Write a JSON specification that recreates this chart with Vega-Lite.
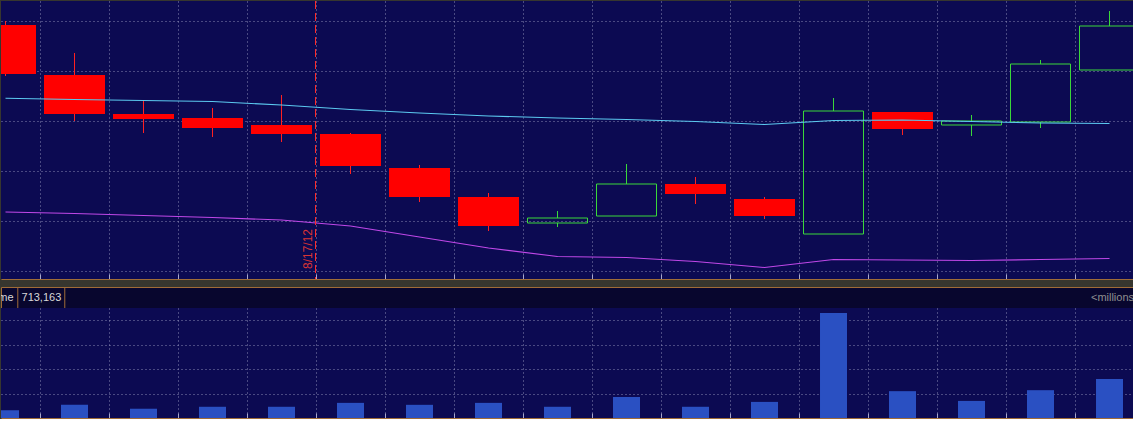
{
  "$schema": "https://vega.github.io/schema/vega-lite/v6.json",
  "background": "#37362f",
  "padding": 0,
  "bounds": "flush",
  "spacing": 8,
  "config": {
    "font": "Liberation Sans",
    "view": {"stroke": null},
    "axis": {
      "labels": false,
      "ticks": false,
      "domain": false,
      "grid": false,
      "labelPadding": 0,
      "gridColor": "#a8a8cc",
      "gridOpacity": 0.8,
      "gridDash": [1, 3],
      "gridWidth": 1,
      "tickColor": "#a8a8cc",
      "domainColor": "#a06c38",
      "domainWidth": 1
    }
  },
  "datasets": {
    "ohlc": [
      {"i": 0, "date": "2012-08-10", "open": 29.84, "high": 30.0, "low": 27.8, "close": 27.88, "ma1": 26.91, "ma2": 22.36, "volume": 0.16},
      {"i": 1, "date": "2012-08-13", "open": 27.84, "high": 28.72, "low": 26.0, "close": 26.28, "ma1": 26.86, "ma2": 22.3, "volume": 0.27},
      {"i": 2, "date": "2012-08-14", "open": 26.28, "high": 26.84, "low": 25.52, "close": 26.08, "ma1": 26.82, "ma2": 22.22, "volume": 0.19},
      {"i": 3, "date": "2012-08-15", "open": 26.12, "high": 26.52, "low": 25.36, "close": 25.72, "ma1": 26.78, "ma2": 22.14, "volume": 0.23},
      {"i": 4, "date": "2012-08-16", "open": 25.84, "high": 27.04, "low": 25.16, "close": 25.48, "ma1": 26.64, "ma2": 22.04, "volume": 0.23},
      {"i": 5, "date": "2012-08-17", "open": 25.48, "high": 25.52, "low": 23.88, "close": 24.2, "ma1": 26.46, "ma2": 21.8, "volume": 0.31},
      {"i": 6, "date": "2012-08-20", "open": 24.12, "high": 24.24, "low": 22.76, "close": 22.96, "ma1": 26.32, "ma2": 21.36, "volume": 0.27},
      {"i": 7, "date": "2012-08-21", "open": 22.96, "high": 23.12, "low": 21.6, "close": 21.8, "ma1": 26.2, "ma2": 20.92, "volume": 0.31},
      {"i": 8, "date": "2012-08-22", "open": 21.92, "high": 22.4, "low": 21.76, "close": 22.12, "ma1": 26.12, "ma2": 20.58, "volume": 0.23},
      {"i": 9, "date": "2012-08-23", "open": 22.2, "high": 24.28, "low": 22.2, "close": 23.48, "ma1": 26.06, "ma2": 20.54, "volume": 0.43},
      {"i": 10, "date": "2012-08-24", "open": 23.48, "high": 23.76, "low": 22.68, "close": 23.08, "ma1": 25.98, "ma2": 20.38, "volume": 0.23},
      {"i": 11, "date": "2012-08-27", "open": 22.88, "high": 22.96, "low": 22.08, "close": 22.2, "ma1": 25.86, "ma2": 20.14, "volume": 0.33},
      {"i": 12, "date": "2012-08-28", "open": 21.48, "high": 26.92, "low": 21.48, "close": 26.4, "ma1": 26.02, "ma2": 20.46, "volume": 2.15},
      {"i": 13, "date": "2012-08-29", "open": 26.36, "high": 26.36, "low": 25.44, "close": 25.68, "ma1": 26.04, "ma2": 20.44, "volume": 0.55},
      {"i": 14, "date": "2012-08-30", "open": 25.84, "high": 26.24, "low": 25.4, "close": 26.0, "ma1": 25.98, "ma2": 20.42, "volume": 0.35},
      {"i": 15, "date": "2012-08-31", "open": 25.96, "high": 28.44, "low": 25.72, "close": 28.28, "ma1": 25.92, "ma2": 20.46, "volume": 0.57},
      {"i": 16, "date": "2012-09-04", "open": 28.04, "high": 30.4, "low": 28.04, "close": 29.8, "ma1": 25.9, "ma2": 20.5, "volume": 0.8}
    ],
    "marker": [
      {"i": 4.5, "label": "8/17/12"}
    ],
    "header": [
      {"label": "Volume", "value": "713,163", "unit": "<millions>"}
    ]
  },
  "vconcat": [
    {
      "width": 1133,
      "height": 278,
      "view": {"fill": "#0c0a52", "stroke": null},
      "data": {"name": "ohlc"},
      "encoding": {
        "x": {
          "field": "i",
          "type": "quantitative",
          "title": null,
          "scale": {"domain": [-0.06525, 16.355], "nice": false, "zero": false, "padding": 0},
          "axis": {
            "orient": "bottom",
            "values": [0.5, 1.5, 2.5, 3.5, 4.5, 5.5, 6.5, 7.5, 8.5, 9.5, 10.5, 11.5, 12.5, 13.5, 14.5, 15.5],
            "grid": true,
            "ticks": true,
            "tickSize": -5,
            "domain": true,
            "labels": false,
            "title": null
          }
        }
      },
      "layer": [
        {
          "transform": [{"filter": "datum.close < datum.open"}],
          "mark": {"type": "rule", "color": "#ff2020", "strokeWidth": 1, "clip": true},
          "encoding": {
            "y": {
              "field": "high",
              "type": "quantitative",
              "title": null,
              "scale": {"domain": [19.68, 30.8], "nice": false, "zero": false, "padding": 0},
              "axis": {"orient": "right", "values": [20, 21, 22, 23, 24, 25, 26, 27, 28, 29, 30], "grid": true, "labels": false, "ticks": false, "domain": false, "title": null}
            },
            "y2": {"field": "low"}
          }
        },
        {
          "transform": [{"filter": "datum.close < datum.open"}],
          "mark": {"type": "bar", "width": 61, "color": "#ff0000", "clip": true},
          "encoding": {
            "y": {"field": "open", "type": "quantitative", "title": null},
            "y2": {"field": "close"}
          }
        },
        {
          "transform": [{"filter": "datum.close >= datum.open"}],
          "mark": {"type": "rule", "color": "#3ad83a", "strokeWidth": 1, "clip": true},
          "encoding": {
            "y": {"field": "high", "type": "quantitative", "title": null},
            "y2": {"field": "close"}
          }
        },
        {
          "transform": [{"filter": "datum.close >= datum.open"}],
          "mark": {"type": "rule", "color": "#3ad83a", "strokeWidth": 1, "clip": true},
          "encoding": {
            "y": {"field": "open", "type": "quantitative", "title": null},
            "y2": {"field": "low"}
          }
        },
        {
          "transform": [{"filter": "datum.close >= datum.open"}],
          "mark": {"type": "bar", "width": 60, "fillOpacity": 0, "stroke": "#3ad83a", "strokeWidth": 1, "clip": true},
          "encoding": {
            "y": {"field": "open", "type": "quantitative", "title": null},
            "y2": {"field": "close"}
          }
        },
        {
          "mark": {"type": "line", "color": "#5ccaf0", "strokeWidth": 1.1, "clip": true},
          "encoding": {
            "y": {"field": "ma1", "type": "quantitative", "title": null}
          }
        },
        {
          "mark": {"type": "line", "color": "#c048e8", "strokeWidth": 1.1, "clip": true},
          "encoding": {
            "y": {"field": "ma2", "type": "quantitative", "title": null}
          }
        },
        {
          "data": {"name": "marker"},
          "mark": {"type": "rule", "color": "#ff2a2a", "strokeWidth": 1, "strokeDash": [8, 4], "xOffset": -0.5},
          "encoding": {}
        },
        {
          "data": {"name": "marker"},
          "mark": {"type": "text", "angle": 270, "align": "left", "baseline": "bottom", "color": "#d83434", "fontSize": 12, "dy": -1},
          "encoding": {
            "y": {"datum": 20.08, "type": "quantitative"},
            "text": {"field": "label"}
          }
        }
      ]
    },
    {
      "spacing": 0,
      "bounds": "flush",
      "vconcat": [
        {
          "width": 1133,
          "height": 21,
          "view": {"fill": "#08062e", "stroke": "#a06c38", "strokeWidth": 1},
          "data": {"name": "header"},
          "layer": [
            {
              "mark": {"type": "rule", "color": "#a06c38", "strokeWidth": 1},
              "encoding": {
                "x": {
                  "datum": 0.178,
                  "type": "quantitative",
                  "scale": {"domain": [-0.06525, 16.355], "nice": false, "zero": false, "padding": 0},
                  "axis": {
                    "orient": "bottom",
                    "values": [0.5, 1.5, 2.5, 3.5, 4.5, 5.5, 6.5, 7.5, 8.5, 9.5, 10.5, 11.5, 12.5, 13.5, 14.5, 15.5],
                    "ticks": true,
                    "tickSize": 5,
                    "domain": false,
                    "grid": false,
                    "labels": false,
                    "title": null
                  }
                }
              }
            },
            {
              "mark": {"type": "rule", "color": "#a06c38", "strokeWidth": 1},
              "encoding": {"x": {"datum": 0.859, "type": "quantitative"}}
            },
            {
              "mark": {"type": "text", "align": "right", "baseline": "middle", "color": "#d8d8d8", "fontSize": 11, "clip": true},
              "encoding": {"x": {"datum": 0.116, "type": "quantitative"}, "text": {"field": "label"}}
            },
            {
              "mark": {"type": "text", "align": "left", "baseline": "middle", "color": "#d8d8d8", "fontSize": 11},
              "encoding": {"x": {"datum": 0.232, "type": "quantitative"}, "text": {"field": "value"}}
            },
            {
              "mark": {"type": "text", "align": "right", "baseline": "middle", "color": "#8e8e8e", "fontSize": 11, "clip": true},
              "encoding": {"x": {"datum": 16.449, "type": "quantitative"}, "text": {"field": "unit"}}
            }
          ]
        },
        {
          "width": 1133,
          "height": 110,
          "view": {"fill": "#0c0a52", "stroke": null},
          "data": {"name": "ohlc"},
          "mark": {"type": "bar", "width": 27, "color": "#2a50c2", "clip": true},
          "encoding": {
            "x": {
              "field": "i",
              "type": "quantitative",
              "title": null,
              "scale": {"domain": [-0.06525, 16.355], "nice": false, "zero": false, "padding": 0},
              "axis": {
                "orient": "bottom",
                "values": [0.5, 1.5, 2.5, 3.5, 4.5, 5.5, 6.5, 7.5, 8.5, 9.5, 10.5, 11.5, 12.5, 13.5, 14.5, 15.5],
                "grid": true,
                "ticks": true,
                "tickSize": -5,
                "domain": true,
                "labels": false,
                "title": null
              }
            },
            "y": {
              "field": "volume",
              "type": "quantitative",
              "title": null,
              "scale": {"domain": [0, 2.254], "nice": false},
              "axis": {"orient": "right", "values": [0.5, 1, 1.5, 2], "grid": true, "labels": false, "ticks": false, "domain": false, "title": null}
            }
          }
        }
      ]
    }
  ]
}
